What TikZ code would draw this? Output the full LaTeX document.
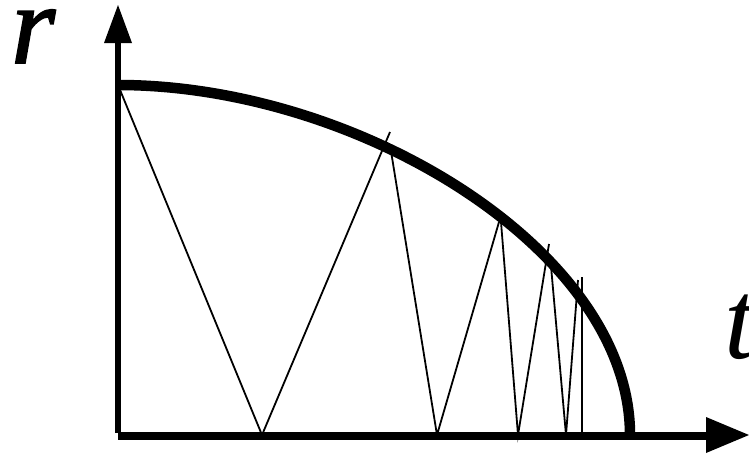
\documentclass[tikz,border=0pt]{standalone}
\usepackage{fontspec}
\setmainfont{Liberation Serif}
\begin{document}
\begin{tikzpicture}[x=1pt,y=-1pt,
  vaxis/.style={line width=5.5pt},
  haxis/.style={line width=8pt},
  curve/.style={line width=10.5pt},
  zig/.style={line width=1.8pt},
  tip/.style={fill=black},
  lab/.style={inner sep=0pt, anchor=base west, text height=0.45em, text depth=0pt, font=\fontsize{113}{113}\selectfont\itshape}]
\useasboundingbox (0,0) rectangle (749,455);
% points
\coordinate (A0) at (118,85);
\coordinate (B1) at (262,435);
\coordinate (A1) at (390,132);
\coordinate (A1b) at (390,145);
\coordinate (B2) at (437,435);
\coordinate (A2) at (499,222);
\coordinate (A2b) at (501,222);
\coordinate (B3) at (518,435);
\coordinate (A3) at (549,244);
\coordinate (A3b) at (550,255);
\coordinate (B4) at (566,435);
\coordinate (A4) at (578,280);
\coordinate (V) at (582,277);
\coordinate (B5) at (582,435);
\coordinate (E) at (630,435);
% zigzag
\draw[zig] (A0) -- (B1) -- (A1);
\draw[zig] (A1b) -- (B2) -- (A2);
\draw[zig] (A2b) -- (B3) -- (A3);
\draw[zig] (A3b) -- (B4) -- (A4);
\draw[zig] (V) -- (B5);
% curve
\draw[curve] (A0) .. controls (358,85) and (630,250) .. (E);
% axes
\coordinate (Vb) at (118,433);
\coordinate (Vt) at (118,43);
\coordinate (Hl) at (118,435.5);
\coordinate (Hr) at (706,435.5);
\draw[vaxis] (Vb) -- (Vt);
\fill[tip] (118,5) -- (104,43) -- (132,43) -- cycle;
\draw[haxis] (Hl) -- (Hr);
\fill[tip] (749,435) -- (706,417) -- (706,453) -- cycle;
% labels
\node[lab, font=\fontsize{113}{113}\selectfont\itshape\addfontfeatures{FakeBold=1.5}] (r) at (11,63) {r};
\node[lab] (t) at (724,358) {t};
\end{tikzpicture}
\end{document}
